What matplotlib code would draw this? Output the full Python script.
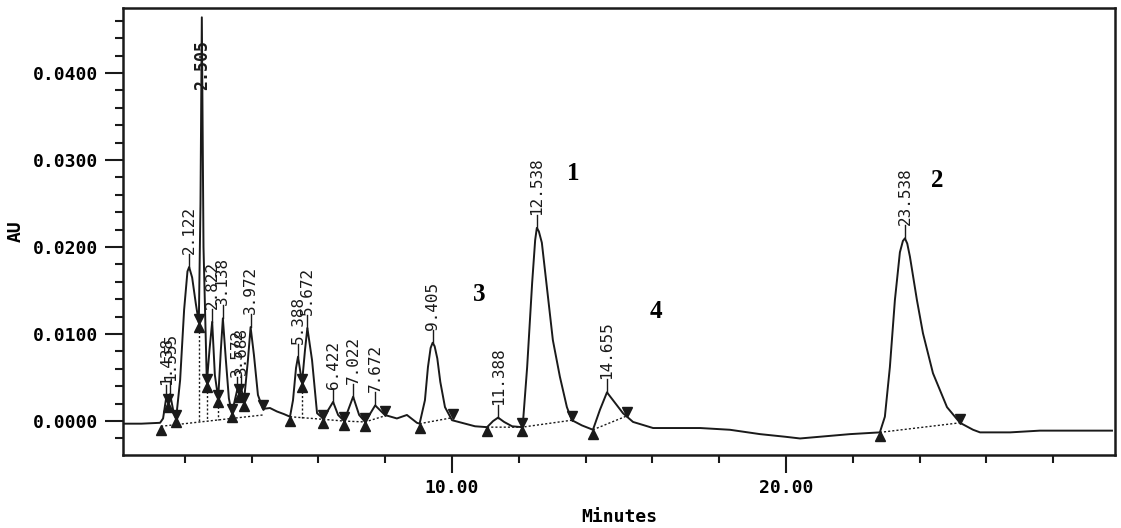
import numpy as np
import matplotlib
matplotlib.use("Agg")
import matplotlib.pyplot as plt
from matplotlib.ticker import FixedLocator

# chromatogram trace (minutes, AU)
trace_t = [0.15, 0.70, 1.26, 1.35, 1.44, 1.50, 1.56, 1.65, 1.74, 1.86, 1.98, 2.08, 2.13,
           2.22, 2.33, 2.42, 2.47, 2.51, 2.56, 2.66, 2.74, 2.82, 2.90, 3.00, 3.08, 3.14,
           3.23, 3.32, 3.41, 3.50, 3.57, 3.62, 3.69, 3.77, 3.89, 3.97, 4.07, 4.19, 4.34,
           4.55, 4.76, 4.97, 5.15, 5.24, 5.33, 5.39, 5.51, 5.60, 5.67, 5.81, 5.96, 6.14,
           6.44, 6.59, 6.77, 7.04, 7.22, 7.40, 7.70, 7.99, 8.35, 8.65, 8.95, 9.03, 9.19,
           9.28, 9.36, 9.42, 9.48, 9.56, 9.65, 9.79, 10.00, 10.30, 10.69, 11.05, 11.23,
           11.38, 11.56, 11.80, 12.10, 12.13, 12.25, 12.40, 12.49, 12.54, 12.60, 12.69,
           12.84, 13.02, 13.23, 13.44, 13.59, 13.89, 14.22, 14.43, 14.64, 14.82, 15.12,
           15.42, 16.02, 16.53, 17.43, 18.32, 19.22, 19.97, 20.42, 21.02, 21.92, 22.81,
           22.96, 23.11, 23.26, 23.41, 23.50, 23.56, 23.63, 23.71, 23.92, 24.10, 24.40,
           24.82, 25.21, 25.60, 25.81, 26.71, 27.60, 28.80, 29.76]
trace_au = [-0.0003, -0.0003, -0.0002, 0.0003, 0.0026, 0.0021, 0.0031, 0.0013, 0.0003,
            0.0047, 0.0128, 0.0172, 0.0177, 0.0165, 0.0135, 0.0113, 0.0250, 0.0464, 0.0200,
            0.0044, 0.0082, 0.0114, 0.0053, 0.0026, 0.0082, 0.0118, 0.0070, 0.0026, 0.0009,
            0.0024, 0.0036, 0.0032, 0.0038, 0.0022, 0.0070, 0.0108, 0.0076, 0.0030, 0.0014,
            0.0015, 0.0011, 0.0008, 0.0005, 0.0024, 0.0061, 0.0074, 0.0044, 0.0082, 0.0107,
            0.0070, 0.0009, 0.0003, 0.0022, 0.0007, 0.0000, 0.0028, 0.0007, -0.0001, 0.0018,
            0.0007, 0.0003, 0.0007, -0.0002, -0.0003, 0.0024, 0.0062, 0.0084, 0.0090, 0.0086,
            0.0072, 0.0045, 0.0016, 0.0001, -0.0002, -0.0006, -0.0007, 0.0000, 0.0004,
            -0.0001, -0.0006, -0.0007, 0.0001, 0.0062, 0.0159, 0.0208, 0.0222, 0.0218,
            0.0205, 0.0154, 0.0093, 0.0051, 0.0016, 0.0001, -0.0005, -0.0010, 0.0013, 0.0033,
            0.0024, 0.0009, -0.0001, -0.0008, -0.0008, -0.0008, -0.0010, -0.0015, -0.0018,
            -0.0020, -0.0018, -0.0015, -0.0013, 0.0005, 0.0062, 0.0139, 0.0194, 0.0207,
            0.0210, 0.0204, 0.0189, 0.0139, 0.0101, 0.0055, 0.0016, -0.0002, -0.0010, -0.0013,
            -0.0013, -0.0011, -0.0011, -0.0011]

# integrated peaks: label, apex time, apex height
peak_labels = ["1.438", "1.555", "2.122", "2.505", "2.822", "3.138", "3.572", "3.688",
               "3.972", "5.388", "5.672", "6.422", "7.022", "7.672", "9.405", "11.388",
               "12.538", "14.655", "23.538"]
peak_t = [1.44, 1.56, 2.13, 2.51, 2.82, 3.14, 3.57, 3.69, 3.97, 5.39, 5.67, 6.44, 7.04,
          7.70, 9.42, 11.38, 12.54, 14.64, 23.56]
peak_au = [0.0026, 0.0031, 0.0177, 0.0464, 0.0114, 0.0118, 0.0036, 0.0038, 0.0108, 0.0074,
           0.0107, 0.0022, 0.0028, 0.0018, 0.0090, 0.0004, 0.0222, 0.0033, 0.0210]

# peak start (up triangles) and end (down triangles) marks
start_t = [1.29, 1.50, 1.74, 2.42, 2.66, 3.00, 3.41, 3.62, 3.77, 5.15, 5.51, 6.14, 6.77,
           7.40, 9.03, 11.05, 12.10, 14.22, 22.81]
start_au = [-0.0006, 0.0021, 0.0003, 0.0113, 0.0044, 0.0026, 0.0009, 0.0032, 0.0022, 0.0004,
            0.0044, 0.0002, 0.0000, -0.0001, -0.0003, -0.0007, -0.0007, -0.0010, -0.0013]
end_t = [1.50, 1.74, 2.42, 2.66, 3.00, 3.41, 3.62, 3.77, 4.34, 5.51, 6.14, 6.77, 7.40,
         7.99, 10.03, 12.10, 13.59, 15.24, 25.21]
end_au = [0.0021, 0.0003, 0.0113, 0.0044, 0.0026, 0.0009, 0.0032, 0.0022, 0.0014, 0.0044,
          0.0002, 0.0000, -0.0001, 0.0007, 0.0004, -0.0007, 0.0001, 0.0006, -0.0002]

# dotted integration baselines
base_groups = [
    ([1.29, 4.34], [-0.0006, 0.0007]),
    ([5.15, 6.14, 6.77, 7.40, 7.99], [0.0005, 0.0002, 0.0000, -0.0001, 0.0006]),
    ([9.03, 10.03], [-0.0003, 0.0004]),
    ([11.05, 12.10, 13.59], [-0.0007, -0.0007, 0.0001]),
    ([14.22, 15.24], [-0.0010, 0.0006]),
    ([22.81, 25.21], [-0.0013, -0.0002]),
]
# valley drop lines: time, valley height, baseline group index
drop_t = [2.42, 2.66, 3.00, 5.51]
drop_au = [0.0113, 0.0044, 0.0026, 0.0044]
drop_grp = [0, 0, 0, 1]

# compound numbers added on the figure
cmp_labels = ["1", "2", "3", "4"]
cmp_t = [13.62, 24.52, 10.81, 16.11]
cmp_au = [0.0285, 0.0277, 0.0145, 0.0126]

mono = "DejaVu Sans Mono"
ink = "#1a1a1a"

fig = plt.figure(figsize=(11.21, 5.28), dpi=100)
ax = fig.add_axes([123 / 1121, 73 / 528, (1115 - 123) / 1121, (455 - 8) / 528])

ax.plot(trace_t, trace_au, color=ink, lw=1.4, zorder=3, solid_joinstyle="round")

for bt, ba in base_groups:
    ax.plot(bt, ba, color=ink, lw=1.0, ls=(0, (1.5, 1.5)), zorder=2)
for t, a, g in zip(drop_t, drop_au, drop_grp):
    bt, ba = base_groups[g]
    ax.plot([t, t], [a, np.interp(t, bt, ba)], color=ink, lw=1.0,
            ls=(0, (1.5, 1.5)), zorder=2)

ax.plot(start_t, np.array(start_au) - 0.00045, ls="none", marker="^", ms=7,
        color=ink, zorder=4)
ax.plot(end_t, np.array(end_au) + 0.00045, ls="none", marker="v", ms=7,
        color=ink, zorder=4)

gap = 0.0015
for lab, t, a in zip(peak_labels, peak_t, peak_au):
    if a > 0.04:
        ax.text(t, 0.0438, lab, rotation=90, ha="center", va="top", fontsize=12,
                family=mono, fontweight="bold", color=ink, zorder=5)
        continue
    ax.plot([t, t], [a, a + gap], color=ink, lw=1.0, zorder=3)
    ax.text(t, a + gap, lab, rotation=90, ha="center", va="bottom", fontsize=11.5,
            family=mono, color=ink, zorder=5)

for lab, t, a in zip(cmp_labels, cmp_t, cmp_au):
    ax.text(t, a, lab, ha="center", va="center", fontsize=18, fontweight="bold",
            family="Liberation Serif", color="black")

ax.set_xlim(0.15, 29.85)
ax.set_ylim(-0.0039, 0.04747)

ax.xaxis.set_major_locator(FixedLocator([10, 20]))
ax.xaxis.set_minor_locator(FixedLocator([t for t in range(2, 30, 2) if t not in (10, 20)]))
ax.set_xticklabels(["10.00", "20.00"])
ax.yaxis.set_major_locator(FixedLocator([0.0, 0.01, 0.02, 0.03, 0.04]))
ax.yaxis.set_minor_locator(FixedLocator([k * 0.002 for k in range(-1, 24) if k % 5 != 0]))
ax.set_yticklabels(["0.0000", "0.0100", "0.0200", "0.0300", "0.0400"])

ax.tick_params(axis="both", which="major", direction="out", length=13, width=1.5,
               color=ink, labelsize=13, pad=4)
ax.tick_params(axis="both", which="minor", direction="out", length=6, width=1.5, color=ink)
ax.tick_params(axis="y", which="major", pad=5)
for lab in ax.get_xticklabels() + ax.get_yticklabels():
    lab.set_family(mono)
    lab.set_fontweight("bold")

for sp in ax.spines.values():
    sp.set_linewidth(1.8)
    sp.set_color(ink)

ax.set_xlabel("Minutes", family=mono, fontweight="bold", fontsize=13, labelpad=8)
ax.set_ylabel("AU", family=mono, fontweight="bold", fontsize=13, labelpad=6)

fig.savefig("out.png", dpi=100)
